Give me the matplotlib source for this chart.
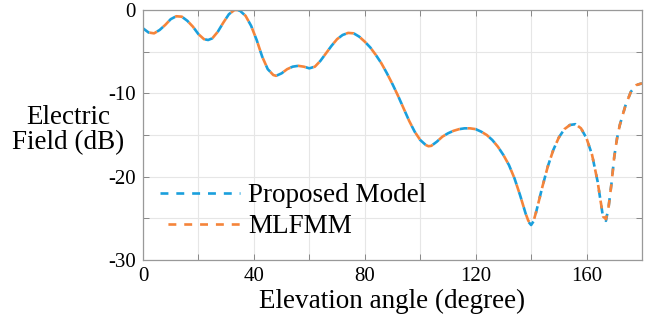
import numpy as np
import matplotlib
matplotlib.use("Agg")
import matplotlib.pyplot as plt
from matplotlib.ticker import MultipleLocator

plt.rcParams['font.family'] = ['Liberation Serif', 'DejaVu Serif']

# elevation angle (degree) and field (dB)
angle = [0, 2, 4, 6, 8, 10, 12, 14, 16, 18, 20, 22, 23.5, 25, 27, 29, 31, 33, 34,
         35, 37, 39, 41, 43, 45, 47, 48, 50, 52, 54, 56, 58, 60, 62, 64, 66, 68,
         70, 72, 74, 76, 78, 80, 82, 84, 86, 88, 90, 92, 94, 96, 98, 100, 102,
         103, 104, 106, 108, 110, 112, 114, 116, 118, 120, 122, 124, 126, 128, 130,
         132, 134, 136, 138, 139, 140, 141, 142, 144, 146, 148, 150, 152, 154,
         156, 158, 160, 162, 164, 165, 166, 167, 168, 169, 170, 171, 172, 174,
         176, 178, 180]
field_proposed = [-2.2, -2.7, -2.8, -2.4, -1.8, -1.1, -0.75, -0.8, -1.3, -2.0,
                  -2.9, -3.5, -3.6, -3.4, -2.6, -1.5, -0.5, 0.0, 0.0,
                  -0.1, -0.7, -1.9, -3.6, -5.6, -7.1, -7.8, -7.9, -7.6, -7.1,
                  -6.8, -6.7, -6.8, -7.0, -6.8, -6.1, -5.2, -4.3,
                  -3.5, -3.0, -2.75, -2.8, -3.2, -3.8, -4.5, -5.4, -6.4, -7.6,
                  -8.9, -10.3, -11.8, -13.3, -14.6, -15.6, -16.2,
                  -16.35, -16.3, -15.8, -15.2, -14.8, -14.5, -14.3, -14.2, -14.2,
                  -14.3, -14.6, -15.0, -15.6, -16.4, -17.4,
                  -18.6, -20.2, -22.2, -24.4, -25.4, -25.8, -25.3, -24.0, -21.3,
                  -18.8, -16.8, -15.3, -14.3, -13.8,
                  -13.7, -14.2, -15.4, -17.4, -20.6, -22.8, -25.0, -25.3, -23.5,
                  -20.8, -17.6, -15.4, -13.8, -11.5,
                  -9.8, -9.0, -8.8]
field_mlfmm = [-2.2, -2.7, -2.8, -2.4, -1.8, -1.1, -0.75, -0.8, -1.3, -2.0,
               -2.9, -3.5, -3.6, -3.4, -2.6, -1.5, -0.5, 0.0, 0.0,
               -0.1, -0.7, -1.9, -3.6, -5.6, -7.1, -7.8, -7.9, -7.6, -7.1,
               -6.8, -6.7, -6.8, -7.0, -6.8, -6.1, -5.2, -4.3,
               -3.5, -3.0, -2.75, -2.8, -3.2, -3.8, -4.5, -5.4, -6.4, -7.6,
               -8.9, -10.3, -11.8, -13.3, -14.6, -15.6, -16.2,
               -16.35, -16.3, -15.8, -15.2, -14.8, -14.5, -14.3, -14.2, -14.2,
               -14.3, -14.6, -15.0, -15.6, -16.4, -17.4,
               -18.6, -20.2, -22.2, -24.4, -25.3, -25.6, -25.2, -24.0, -21.3,
               -18.8, -16.8, -15.3, -14.3, -13.8,
               -13.7, -14.2, -15.4, -17.4, -20.6, -22.8, -24.8, -25.1, -23.5,
               -20.8, -17.6, -15.4, -13.8, -11.5,
               -9.8, -9.0, -8.8]

xticks = [0, 40, 80, 120, 160]
yticks = [0, -10, -20, -30]

blue = '#1a9fdc'
orange = '#f5843a'

fig = plt.figure(figsize=(6.52, 3.27), dpi=100)
ax = fig.add_axes([143 / 652, 67 / 327, 499 / 652, 250 / 327])

ax.plot(angle, field_proposed, color=blue, lw=1.9, ls=(0, (3, 3)), label='Proposed Model')
ax.plot(angle, field_mlfmm, color=orange, lw=1.9, ls=(3, (3, 3)), label='MLFMM')

ax.set_xlim(0, 180)
ax.set_ylim(-30, 0)
ax.set_xticks(xticks)
ax.set_yticks(yticks)
ax.set_yticklabels([str(v) for v in yticks])
ax.xaxis.set_minor_locator(MultipleLocator(20))
ax.yaxis.set_minor_locator(MultipleLocator(5))
ax.grid(True, which='both', color='#e6e6e6', lw=0.8)
ax.set_axisbelow(True)
ax.tick_params(which='both', direction='in', top=True, right=True,
               length=4, width=0.7, color='#888888', labelsize=15, pad=5)
for s in ax.spines.values():
    s.set_color('#999999')
    s.set_linewidth(0.9)

ax.set_xlabel('Elevation angle (degree)', fontsize=19.5, labelpad=2)
ax.set_ylabel('Electric\nField (dB)', fontsize=19.5, rotation=0,
              ha='center', va='center', multialignment='center', linespacing=1.05)
ax.yaxis.set_label_coords(-0.15, 0.52)

ax.legend(loc='center left', bbox_to_anchor=(0.034, 0.195), frameon=False,
          fontsize=19.5, handlelength=2.95, handletextpad=0.3,
          labelspacing=0.22, borderpad=0, borderaxespad=0)

fig.savefig('out.png', dpi=100)
